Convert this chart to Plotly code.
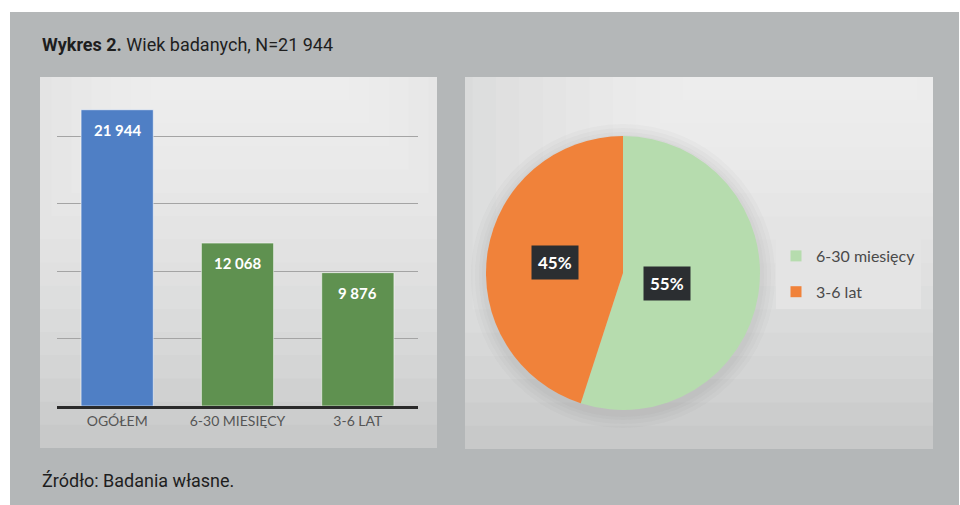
import plotly.graph_objects as go
import math

# data
bar_labels = ["OGÓŁEM", "6-30 MIESIĘCY", "3-6 LAT"]
bar_values = [21944, 12068, 9876]
bar_text = ["21 944", "12 068", "9 876"]
bar_colors = ["#4f7fc5", "#5f9150", "#5f9150"]

pie_labels = ["6-30 miesięcy", "3-6 lat"]
pie_values = [12068, 9876]
pie_colors = ["#b6dcae", "#f0823a"]

W, H = 960, 505
COND = "Roboto"


def px(x):
    return x / W


def py(y):
    return 1 - y / H


fig = go.Figure()

fig.add_trace(go.Bar(
    x=bar_labels, y=bar_values,
    marker=dict(color=bar_colors, line=dict(color="rgba(255,255,255,0.55)", width=1)),
    width=0.6, showlegend=False, hoverinfo="x+y",
    xaxis="x", yaxis="y",
))

fig.add_trace(go.Pie(
    labels=pie_labels, values=pie_values,
    marker=dict(colors=pie_colors, line=dict(width=0)),
    sort=False, direction="clockwise", rotation=0,
    textinfo="none", hoverinfo="label+percent", showlegend=False,
    domain=dict(x=[px(486), px(760)], y=[py(410), py(136)]),
))

# legend entries (one per slice so the gap between them can be set)
for i, (lab, col) in enumerate(zip(pie_labels, pie_colors)):
    fig.add_trace(go.Scatter(
        x=[None], y=[None], mode="markers", name=lab, legendgroup="g%d" % i,
        marker=dict(symbol="square", size=11, color=col), xaxis="x", yaxis="y",
    ))

shapes = []
# grey background
shapes.append(dict(type="rect", xref="paper", yref="paper", x0=px(10), x1=px(959), y0=0, y1=py(12),
                   fillcolor="#b4b7b8", line=dict(width=0), layer="below"))


def panel(x0, y0, x1, y1, cx, n=16, base="#c3c4c4"):
    shapes.append(dict(type="rect", xref="paper", yref="paper", x0=px(x0), x1=px(x1), y0=py(y1), y1=py(y0),
                       fillcolor=base, line=dict(width=0), layer="below"))
    w = x1 - x0
    h = y1 - y0
    for i in range(n):
        f = 1 - i / n
        hw = w * (0.2 + 0.8 * f)
        a = max(x0, cx - hw)
        b = min(x1, cx + hw)
        shapes.append(dict(type="rect", xref="paper", yref="paper", x0=px(a), x1=px(b),
                           y0=py(y0 + h * f), y1=py(y0),
                           fillcolor="rgba(255,255,255,0.085)", line=dict(width=0), layer="below"))


panel(40, 77, 437, 448, 250)
panel(465, 77, 933, 449, 800)

# soft shadow around pie
for r in [152, 148, 144, 141]:
    shapes.append(dict(type="circle", xref="paper", yref="paper",
                       x0=px(623 - r), x1=px(623 + r), y0=py(276 + r), y1=py(276 - r),
                       fillcolor="rgba(90,90,90,0.03)", line=dict(width=0), layer="below"))

annotations = []
annotations.append(dict(xref="paper", yref="paper", x=px(40), y=py(45), xanchor="left", yanchor="middle",
                        text="<b>Wykres 2.</b> Wiek badanych, N=21 944", showarrow=False,
                        font=dict(family=COND, size=18, color="#1e1e1e")))
annotations.append(dict(xref="paper", yref="paper", x=px(40), y=py(480), xanchor="left", yanchor="middle",
                        text="Źródło: Badania własne.", showarrow=False,
                        font=dict(family=COND, size=18, color="#1e1e1e")))

for lab, v, t in zip(bar_labels, bar_values, bar_text):
    annotations.append(dict(xref="x", yref="y", x=lab, y=v, yshift=-20, text="<b>" + t + "</b>",
                            showarrow=False, font=dict(family="Lato", size=15, color="white")))

# pie percent labels in dark boxes
total = sum(pie_values)
cx, cy, R = 623, 273, 137
start = 0.0
for v in pie_values:
    frac = v / total
    mid = (start + frac / 2) * 2 * math.pi
    lx = cx + 0.5 * R * math.sin(mid)
    ly = cy - 0.5 * R * math.cos(mid)
    annotations.append(dict(xref="paper", yref="paper", x=px(lx), y=py(ly), showarrow=False,
                            text="<b>%d%%</b>" % round(frac * 100), bgcolor="#2b2e31",
                            borderpad=6, font=dict(family="Lato", size=17, color="white")))
    start += frac

fig.update_layout(
    width=W, height=H,
    margin=dict(l=0, r=0, t=0, b=0),
    paper_bgcolor="white", plot_bgcolor="rgba(0,0,0,0)",
    shapes=shapes, annotations=annotations,
    bargap=0.4,
    xaxis=dict(domain=[px(57), px(418)], showline=True, linecolor="#2a2a2a", linewidth=2.5,
               ticks="", tickfont=dict(family="Lato", size=14, color="#555555"), fixedrange=True),
    yaxis=dict(domain=[py(406), py(82)], range=[0, 24000], dtick=5000, showticklabels=False,
               gridcolor="#a4a4a4", gridwidth=1.2, zeroline=False, fixedrange=True),
    legend=dict(x=px(776), y=py(239), xanchor="left", yanchor="top", bgcolor="#e4e4e4",
                font=dict(family="Lato", size=16, color="#4a4a4a"), itemwidth=30,
                tracegroupgap=12),
)

fig.write_html("out.html", config={"displayModeBar": False},
               post_script="document.body.style.margin='0';")
